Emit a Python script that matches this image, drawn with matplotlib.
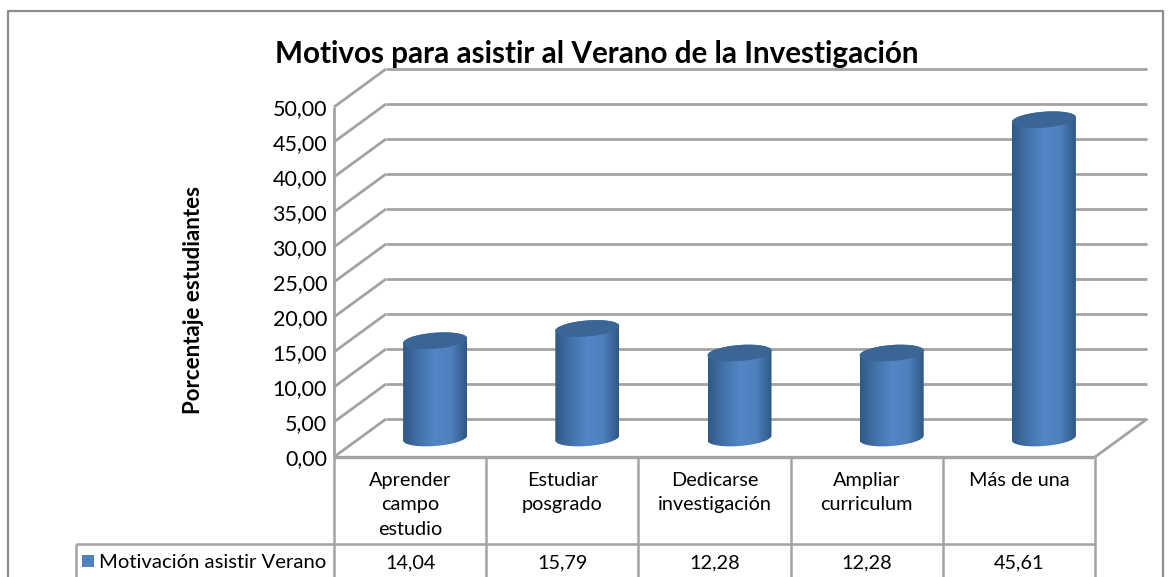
import numpy as np
import matplotlib
matplotlib.use('Agg')
import matplotlib.pyplot as plt
from matplotlib.colors import LinearSegmentedColormap
from matplotlib.patches import Polygon, Rectangle

plt.rcParams['font.family'] = ['Lato', 'DejaVu Sans']

categories = ['Aprender\ncampo\nestudio', 'Estudiar\nposgrado', 'Dedicarse\ninvestigación',
              'Ampliar\ncurriculum', 'Más de una']
values = [14.04, 15.79, 12.28, 12.28, 45.61]
value_labels = ['14,04', '15,79', '12,28', '12,28', '45,61']
y_ticks = [0, 5, 10, 15, 20, 25, 30, 35, 40, 45, 50]
series_name = 'Motivación asistir Verano'
title = 'Motivos para asistir al Verano de la Investigación'
y_title = 'Porcentaje estudiantes'

W, H = 1171, 577
GRID = '#a3a3a3'
BLUE = '#4f81bd'

fig = plt.figure(figsize=(W / 100, H / 100), dpi=100, facecolor='white')
ax = fig.add_axes([334 / W, 1 - 457 / H, 761 / W, 350 / H])
ax.set_xlim(0, 5)
ax.set_ylim(0, 50)
ax.axis('off')

# pixels per data unit, used for the fake 3d depth
px_x = 761 / 5
px_y = 350 / 50
depth_x = 52 / px_x
depth_y = 38 / px_y


def line(xs, ys, lw=2.0, color=GRID):
    ax.plot(xs, ys, color=color, lw=lw, clip_on=False, solid_capstyle='butt', zorder=1)


# walls
for t in y_ticks:
    line([0, depth_x], [t, t + depth_y])
    line([depth_x, 5 + depth_x], [t + depth_y, t + depth_y])
    ax.text(-7 / px_x, t - 2 / px_y, f'{t:.2f}'.replace('.', ','), ha='right', va='center', fontsize=15.5,
            color='black', clip_on=False)
line([0, 0], [0, 50])
line([0, 5], [0, 0], lw=2.4)
line([5, 5 + depth_x], [0, depth_y])

# cylinders
shade = LinearSegmentedColormap.from_list('cyl', ['#2f5885', '#4372aa', '#5386c6', '#4f80bd', '#2f5885'])
grad = np.linspace(0, 1, 256).reshape(1, -1)
semi_w = 32 / px_x
semi_h = 8 / px_y
tilt = 0.10
th = np.linspace(0, 2 * np.pi, 121)

for i, v in enumerate(values):
    cx = i + 0.5 + depth_x / 2 - 1 / px_x
    base = depth_y / 2
    top = v - 1 / px_y
    ex = semi_w * np.cos(th)
    ey = semi_h * np.sin(th) + tilt * np.cos(th) * semi_h * 3
    low = ey[th >= np.pi]
    body_x = np.r_[cx + ex[th >= np.pi], cx + ex[th < np.pi]]
    body_y = np.r_[base + low, base + top + ey[th < np.pi]]
    body = Polygon(np.c_[body_x, body_y], closed=True, transform=ax.transData, fc='none', ec='none')
    ax.add_patch(body)
    im = ax.imshow(grad, cmap=shade, aspect='auto', extent=[cx - semi_w, cx + semi_w, base - 3, base + top + 3],
                   zorder=2, clip_on=True)
    im.set_clip_path(body)
    ax.add_patch(Polygon(np.c_[cx + ex, base + top + ey], closed=True, fc='#3a6595', ec='none', zorder=3,
                         clip_on=False))
ax.set_xlim(0, 5)
ax.set_ylim(0, 50)

# data table, runs off the bottom of the picture
row1 = -87 / px_y
row2 = -125 / px_y
legend_left = -258 / px_x
for i in range(6):
    line([i, i], [0, row2], lw=1.8)
line([legend_left, 5], [row1, row1], lw=1.8)
line([legend_left, legend_left], [row1, row2], lw=1.8)

for i, (c, lab) in enumerate(zip(categories, value_labels)):
    ax.text(i + 0.5, -15 / px_y, c, ha='center', va='top', fontsize=14.3, linespacing=1.52, clip_on=False)
    ax.text(i + 0.5, row1 - 19 / px_y, lab, ha='center', va='center', fontsize=14.3, clip_on=False)

ax.add_patch(Rectangle((legend_left + 6 / px_x, row1 - 23 / px_y), 12 / px_x, 12 / px_y, fc=BLUE, ec='none',
                       clip_on=False))
ax.text(legend_left + 23 / px_x, row1 - 19 / px_y, series_name, ha='left', va='center', fontsize=14.6,
        clip_on=False)

# texts placed relative to the figure
fig.text(597 / W, 1 - 54 / H, title, ha='center', va='center', fontsize=21.3, fontweight='bold')
fig.text(194 / W, 1 - 300 / H, y_title, ha='center', va='center', rotation=90, fontsize=16, fontweight='bold')

# chart frame
fig.add_artist(plt.Line2D([8 / W, 8 / W, 1163 / W, 1163 / W], [0, 1 - 11 / H, 1 - 11 / H, 0],
                          color='#8c8c8c', lw=1.6))

fig.savefig('out.png', dpi=100)
